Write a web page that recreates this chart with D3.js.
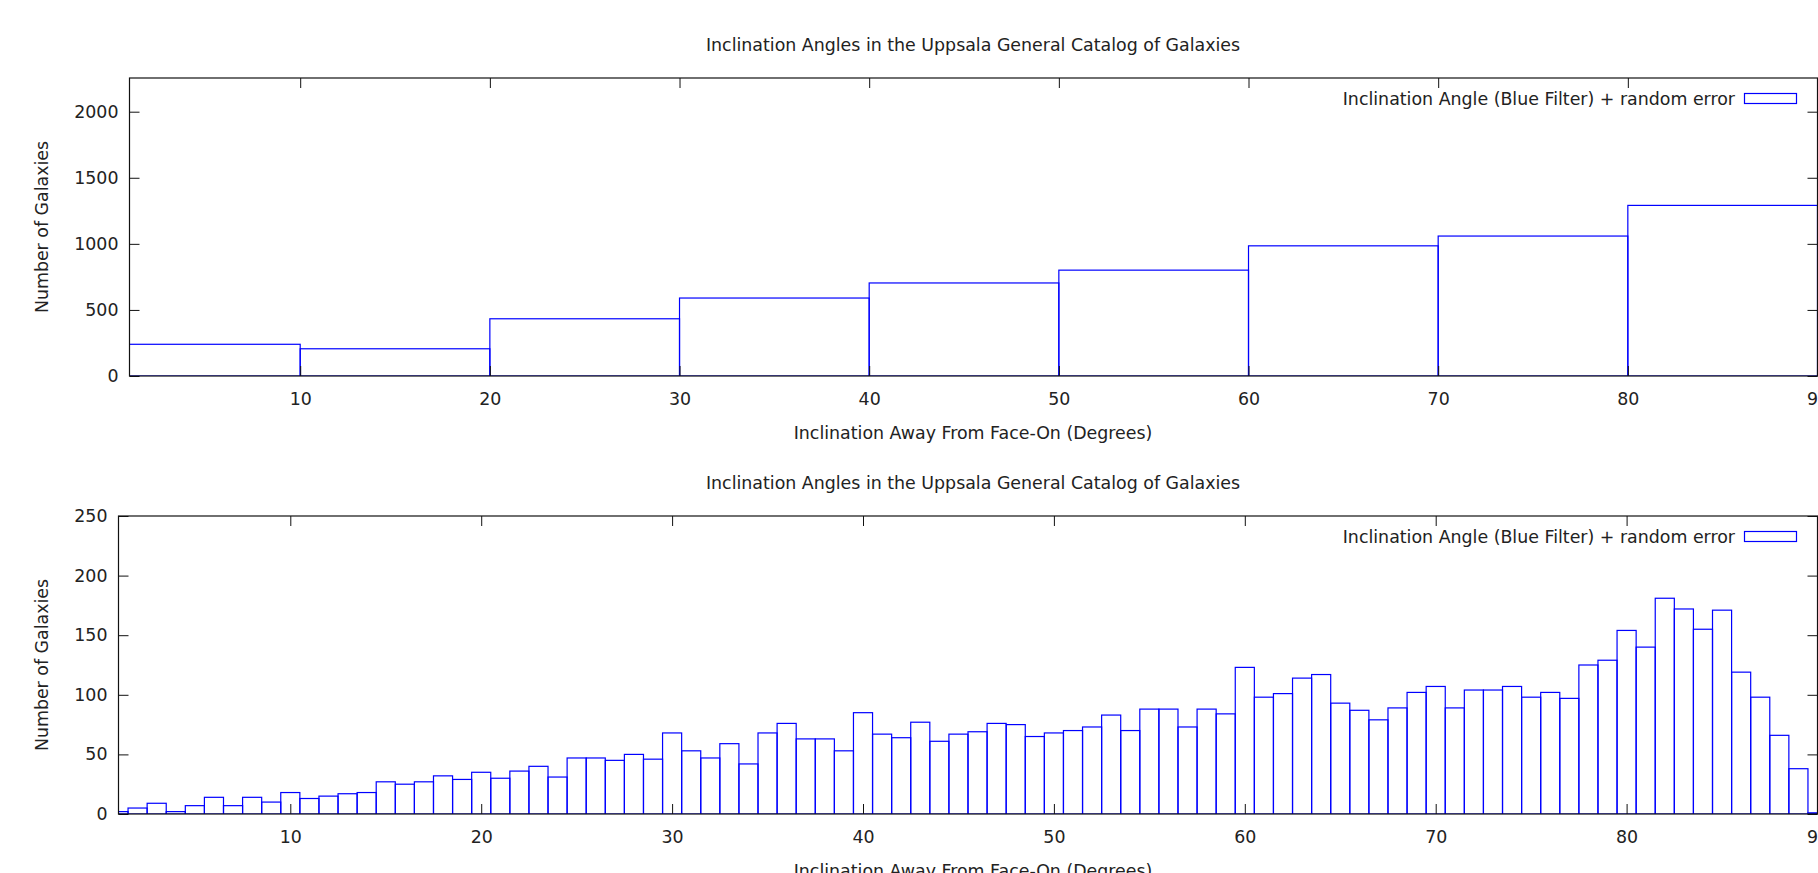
<!DOCTYPE html>
<html>
<head>
<meta charset="utf-8">
<script src="https://cdn.jsdelivr.net/npm/d3@7"></script>
<style>
  html, body { margin: 0; padding: 0; background: #fff; overflow: hidden; }
  svg { display: block; }
  text { font-family: "DejaVu Sans", sans-serif; fill: #222; }
</style>
</head>
<body>
<svg id="chart" width="1818" height="873"></svg>
<script>
// ---------- data ----------
const chartTitle = "Inclination Angles in the Uppsala General Catalog of Galaxies";
const xLabel = "Inclination Away From Face-On (Degrees)";
const yLabel = "Number of Galaxies";
const legendLabel = "Inclination Angle (Blue Filter) + random error";

// top histogram: 10-degree bins
const topBinStarts = [0, 10, 20, 30, 40, 50, 60, 70, 80];
const topBinWidth = 10;
const topCounts = [240, 206, 433, 590, 704, 801, 985, 1059, 1291];
const topYTicks = [0, 500, 1000, 1500, 2000];

// bottom histogram: 1-degree bins centred on whole degrees
const bottomBinCenters = [
  1, 2, 3, 4, 5, 6, 7, 8, 9, 10,
  11, 12, 13, 14, 15, 16, 17, 18, 19, 20,
  21, 22, 23, 24, 25, 26, 27, 28, 29, 30,
  31, 32, 33, 34, 35, 36, 37, 38, 39, 40,
  41, 42, 43, 44, 45, 46, 47, 48, 49, 50,
  51, 52, 53, 54, 55, 56, 57, 58, 59, 60,
  61, 62, 63, 64, 65, 66, 67, 68, 69, 70,
  71, 72, 73, 74, 75, 76, 77, 78, 79, 80,
  81, 82, 83, 84, 85, 86, 87, 88, 89, 90
];
const bottomBinWidth = 1;
const bottomCounts = [
  2, 5, 9, 2, 7, 14, 7, 14, 10, 18,
  13, 15, 17, 18, 27, 25, 27, 32, 29, 35,
  30, 36, 40, 31, 47, 47, 45, 50, 46, 68,
  53, 47, 59, 42, 68, 76, 63, 63, 53, 85,
  67, 64, 77, 61, 67, 69, 76, 75, 65, 68,
  70, 73, 83, 70, 88, 88, 73, 88, 84, 123,
  98, 101, 114, 117, 93, 87, 79, 89, 102, 107,
  89, 104, 104, 107, 98, 102, 97, 125, 129, 154,
  140, 181, 172, 155, 171, 119, 98, 66, 38, 1
];
const bottomYTicks = [0, 50, 100, 150, 200, 250];

const xTicks = [10, 20, 30, 40, 50, 60, 70, 80, 90];
const xDomain = [1, 90];

// ---------- drawing ----------
const svg = d3.select("#chart");
const FONT = 17.4;
const BLUE = "#0000ff";
const TEXT = "#262626";

function drawPanel(cfg) {
  const { left, right, top, bottom, yMax, yTicks, bins, id } = cfg;
  const x = d3.scaleLinear().domain(xDomain).range([left, right]);
  const y = d3.scaleLinear().domain([0, yMax]).range([bottom, top]);
  const g = svg.append("g");

  svg.append("clipPath").attr("id", id)
    .append("rect").attr("x", left).attr("y", top)
    .attr("width", right - left).attr("height", bottom - top);

  // bars
  g.append("g").attr("clip-path", `url(#${id})`)
    .selectAll("rect").data(bins).join("rect")
    .attr("x", d => x(d.x0))
    .attr("width", d => x(d.x1) - x(d.x0))
    .attr("y", d => y(d.v))
    .attr("height", d => y(0) - y(d.v))
    .attr("fill", "none")
    .attr("stroke", BLUE)
    .attr("stroke-width", 1.2);

  // axes (ticks inward, mirrored)
  const axB = d3.axisBottom(x).tickValues(xTicks).tickSizeInner(-10).tickSizeOuter(0).tickPadding(16.8).tickFormat(d3.format("d"));
  const axT = d3.axisTop(x).tickValues(xTicks).tickSizeInner(-10).tickSizeOuter(0).tickFormat("");
  const axL = d3.axisLeft(y).tickValues(yTicks).tickSizeInner(-10).tickSizeOuter(0).tickPadding(11).tickFormat(d3.format("d"));
  const axR = d3.axisRight(y).tickValues(yTicks).tickSizeInner(-10).tickSizeOuter(0).tickFormat("");

  const styleAxis = sel => {
    sel.select(".domain").remove();
    sel.selectAll("line").attr("stroke", "#111").attr("stroke-width", 1);
    sel.selectAll("text").attr("font-size", FONT).attr("fill", TEXT)
      .style("font-family", "DejaVu Sans, sans-serif");
  };
  g.append("g").attr("transform", `translate(0,${bottom})`).call(axB).call(styleAxis);
  g.append("g").attr("transform", `translate(0,${top})`).call(axT).call(styleAxis);
  g.append("g").attr("transform", `translate(${left},0)`).call(axL).call(styleAxis);
  g.append("g").attr("transform", `translate(${right},0)`).call(axR).call(styleAxis);

  // border
  g.append("rect").attr("x", left).attr("y", top)
    .attr("width", right - left).attr("height", bottom - top)
    .attr("fill", "none").attr("stroke", "#111").attr("stroke-width", 1.2);

  // title
  g.append("text").attr("x", 973).attr("y", top - 27)
    .attr("text-anchor", "middle").attr("font-size", FONT).attr("fill", TEXT).text(chartTitle);
  // x label
  g.append("text").attr("x", 973).attr("y", bottom + 63)
    .attr("text-anchor", "middle").attr("font-size", FONT).attr("fill", TEXT).text(xLabel);
  // y label
  g.append("text")
    .attr("transform", `translate(48,${(top + bottom) / 2}) rotate(-90)`)
    .attr("text-anchor", "middle").attr("font-size", FONT).attr("fill", TEXT).text(yLabel);

  // legend
  g.append("text").attr("x", 1735).attr("y", top + 27)
    .attr("text-anchor", "end").attr("font-size", FONT).attr("fill", TEXT).text(legendLabel);
  g.append("rect").attr("x", 1744.5).attr("y", top + 15.5)
    .attr("width", 52).attr("height", 10)
    .attr("fill", "none").attr("stroke", BLUE).attr("stroke-width", 1.2);
}

const topBins = topBinStarts.map((s, i) => ({ x0: s, x1: s + topBinWidth, v: topCounts[i] }));
const bottomBins = bottomBinCenters.map((c, i) => ({ x0: c - bottomBinWidth / 2, x1: c + bottomBinWidth / 2, v: bottomCounts[i] }));

drawPanel({ id: "clipTop", left: 129.5, right: 1817.5, top: 78, bottom: 376, yMax: 2255, yTicks: topYTicks, bins: topBins });
drawPanel({ id: "clipBottom", left: 118.5, right: 1817.5, top: 516, bottom: 814, yMax: 250, yTicks: bottomYTicks, bins: bottomBins });
</script>
</body>
</html>
